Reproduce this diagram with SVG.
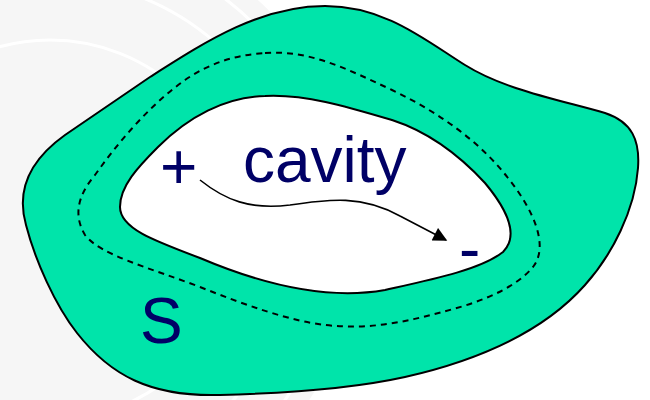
<svg xmlns="http://www.w3.org/2000/svg" width="650" height="400" viewBox="0 0 650 400">
<style>
.lbl{font-family:"Liberation Sans",Arial,sans-serif;font-size:64px;fill:#000066}
.wm{fill:none;stroke:#ffffff;stroke-width:3}
</style>
<defs>
<marker id="ah" viewBox="0 0 10 10" refX="9" refY="5" markerWidth="17" markerHeight="14" markerUnits="userSpaceOnUse" orient="auto">
<path d="M0,0 L10,5 L0,10 Z" fill="#000"/>
</marker>
</defs>
<rect width="650" height="400" fill="#fff"/>
<g id="watermark">
<circle cx="50" cy="230" r="310" fill="#f6f6f6"/>
<circle cx="50" cy="230" r="290" class="wm"/>
<circle cx="50" cy="230" r="250" class="wm"/>
<circle cx="50" cy="230" r="190" class="wm"/>
</g>
<g id="surface-region">
<path d="M325,6 C385,6 425,40 465,65 C505,90 560,100 605,113 C632,122 640,140 638,168 C635,210 612,255 585,285 C545,330 480,360 405,377 C360,387 300,393 220,395 C150,397 110,375 77,333 C55,305 35,260 26,225 C16,190 30,160 65,135 L150,77 C205,42 260,6 325,6 Z" fill="#00E4AA" stroke="#000" stroke-width="2"/>
</g>
<g id="gaussian-surface">
<path d="M265,53 C310,50 345,68 392,90 C440,113 480,142 508,178 C532,208 550,245 533,267 C512,292 470,305 442,312 C405,322 370,330 325,325 C290,321 245,305 200,287 C150,268 100,255 85,235 C73,215 78,195 95,175 C120,140 150,105 185,80 C210,63 235,55 265,53 Z" fill="none" stroke="#000" stroke-width="2" stroke-dasharray="6,5"/>
</g>
<g id="cavity">
<path d="M265,96 C305,94 345,106 392,120 C432,133 462,158 485,183 C505,207 520,235 503,252 C480,270 430,280 385,290 C340,298 280,292 200,258 C152,240 120,228 120,207 C120,186 138,167 158,147 C188,117 225,97 265,96 Z" fill="#fff" stroke="#000" stroke-width="2"/>
</g>
<g id="connectors">
<path d="M200,180 C225,200 250,210 290,205 C330,199 362,195 400,216 L446,240" fill="none" stroke="#000" stroke-width="1.6" marker-end="url(#ah)"/>
</g>
<g id="labels">
<text class="lbl" x="160" y="189">+</text>
<text class="lbl" x="243" y="182">cavity</text>
<text class="lbl" x="459" y="271">-</text>
<text class="lbl" x="140" y="343">S</text>
</g>
</svg>
